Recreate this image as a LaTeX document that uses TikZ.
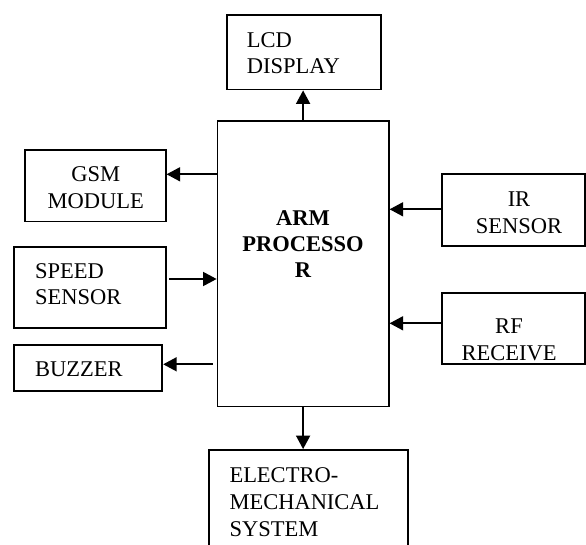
\documentclass[tikz,border=0pt]{standalone}
\usepackage{fontspec}
\setmainfont{Liberation Serif}
\usetikzlibrary{arrows.meta,calc}
\begin{document}
\begin{tikzpicture}[x=1pt,y=-1pt,
  box/.style={draw,line width=1.8pt,inner sep=0pt},
  lbl/.style={inner sep=0pt,font=\fontsize{22.5}{26.7}\selectfont},
  conn/.style={line width=1.7pt,-{Triangle[length=13.5pt,width=14pt]}}]
\useasboundingbox (0,0) rectangle (586,545);
\clip (0,0) rectangle (586,545);

% blocks
\node[box,minimum width=154pt,minimum height=74.5pt] (lcd) at (304,52.25) {};
\node[box,minimum width=171.2pt,minimum height=285.8pt] (arm) at (303.1,263.6) {};
\node[box,minimum width=140.4pt,minimum height=71.5pt] (gsm) at (95.5,185.75) {};
\node[box,minimum width=151.4pt,minimum height=81pt] (speed) at (90,287.2) {};
\node[box,minimum width=148pt,minimum height=45.7pt] (buzzer) at (88.3,367.85) {};
\node[box,minimum width=142.7pt,minimum height=71.7pt] (ir) at (513.65,210.15) {};
\node[box,minimum width=142.7pt,minimum height=71.3pt] (rf) at (513.65,328.35) {};
\node[box,minimum width=199.3pt,minimum height=115pt] (emech) at (308.65,507.5) {};

% labels (base anchor sits on the last line)
\node[lbl,anchor=base west,align=left] (lcdT) at (246.7,73.8) {LCD\\DISPLAY};
\node[lbl,anchor=base,align=center] (gsmT) at (95.7,208.3) {GSM\\MODULE};
\node[lbl,anchor=base west,align=left] (speedT) at (35,305) {SPEED\\SENSOR};
\node[lbl,anchor=base west] (buzzerT) at (35,376.7) {BUZZER};
\node[lbl,anchor=base,align=center] (irT) at (519,233.3) {IR\\SENSOR};
\node[lbl,anchor=base,align=center] (rfT) at (509,360) {RF\\RECEIVE};
\node[lbl,anchor=base,align=center,font=\fontsize{22.5}{26.2}\selectfont\bfseries] (armT) at (303,278) {ARM\\PROCESSO\\R};
\node[lbl,anchor=base west,align=left] (emechT) at (229.3,536) {ELECTRO-\\MECHANICAL\\SYSTEM};

% y levels of the side connectors
\coordinate (yGsm) at (0,174.3);
\coordinate (ySpeed) at (169,279);
\coordinate (yBuzzer) at (212.7,364.3);
\coordinate (yIr) at (0,209.3);
\coordinate (yRf) at (0,323.3);

% connectors
\draw[conn] (arm.north) -- (arm.north |- lcd.south);
\draw[conn] (arm.west |- yGsm) -- (gsm.east |- yGsm);
\draw[conn] (ySpeed) -- (arm.west |- ySpeed);
\draw[conn] (yBuzzer) -- (buzzer.east |- yBuzzer);
\draw[conn] (ir.west |- yIr) -- (arm.east |- yIr);
\draw[conn] (rf.west |- yRf) -- (arm.east |- yRf);
\draw[conn] (arm.south) -- (arm.south |- emech.north);
\end{tikzpicture}
\end{document}
